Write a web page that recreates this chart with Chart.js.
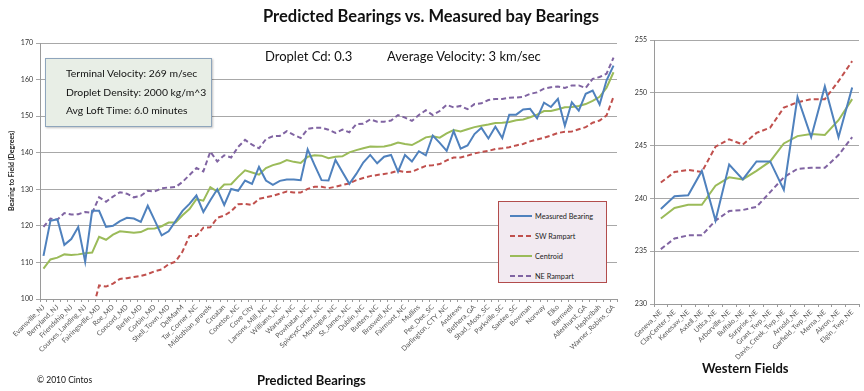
<!DOCTYPE html>
<html>
<head>
<meta charset="utf-8">
<script src="https://cdn.jsdelivr.net/npm/chart.js@4.4.1/dist/chart.umd.min.js"></script>
<style>
  html, body { margin: 0; padding: 0; background: #fff; }
  body { width: 864px; height: 391px; position: relative; overflow: hidden; font-family: Lato, "Open Sans", sans-serif; color: #111; }
  .abs { position: absolute; }
  #leftBox { left: 0; top: 0; width: 630px; height: 391px; }
  #rightBox { left: 620px; top: 0; width: 244px; height: 391px; }
  #title { left: 0; top: 6px; width: 862px; text-align: center; font-weight: bold; font-size: 16.5px; }
  #params { left: 45px; top: 58px; width: 167px; height: 69px; background: #e8eee6; border: 1px solid #8ea5bc;
            box-shadow: 1px 1px 2px rgba(0,0,0,0.25); font-size: 10.4px; line-height: 18.5px; padding: 5px 0 0 20px; box-sizing: border-box; }
  .note { top: 48px; font-size: 13px; }
  #legend { left: 498px; top: 201px; width: 109px; height: 82px; background: #f2eaf1; border: 1px solid #b24c4c;
            box-sizing: border-box; font-size: 7.3px; color: #222; padding-top: 4px; }
  #legend .item { height: 20px; display: flex; align-items: center; padding-left: 11px; }
  #legend svg { margin-right: 3px; }
  .foot { font-weight: bold; font-size: 13px; }
</style>
</head>
<body>
<div id="leftBox" class="abs"><canvas id="predictedChart"></canvas></div>
<div id="rightBox" class="abs"><canvas id="westernChart"></canvas></div>

<div id="title" class="abs">Predicted Bearings vs. Measured bay Bearings</div>
<div id="params" class="abs">
  <div>Terminal Velocity: 269 m/sec</div>
  <div>Droplet Density: 2000 kg/m^3</div>
  <div>Avg Loft Time: 6.0 minutes</div>
</div>
<div class="abs note" style="left:265px">Droplet Cd: 0.3</div>
<div class="abs note" style="left:387px">Average Velocity: 3 km/sec</div>
<div id="legend" class="abs"></div>
<div class="abs foot" style="left:257px; top:372px">Predicted Bearings</div>
<div class="abs foot" style="left:702px; top:360px">Western Fields</div>
<div class="abs" style="left:37px; top:375px; font-size:8.5px">&copy; 2010 Cintos</div>

<script>
// --- Predicted Bearings (only every other site is labelled on the axis) ---
const predictedSites = ['Evansville_NJ', 'Berryland_NJ', 'Friendship_NJ', 'Courses_Landing_NJ', 'Fairingsville_MD',
  'Roe_MD', 'Concord_MD', 'Berlin_MD', 'Corbin_MD', 'Shell_Town_MD', 'DelMarM', 'Tar_Corner_NC',
  'Midlothian_gravels', 'Croatan', 'Conetoe_NC', 'Cove City', 'Larsons_Mill_NC', 'Williams_NC', 'Warsaw_NC',
  'Powhatan_NC', 'SpiveysCorner_NC', 'Montague_NC', 'St_James_NC', 'Dublin_NC', 'Butters_NC', 'Braswell_NC',
  'Fairmont_NC', 'Mullins', 'Pee_Dee_SC', 'Darlington_CTY_NC', 'Andrews', 'Bethera_GA', 'Shad_Moss_SC',
  'Parkville_SC', 'Santee_SC', 'Bowman', 'Norway', 'Elko', 'Barnwell', 'Allenhurst_GA', 'Hephzibah',
  'Warner_Robins_GA'];

const predictedMeasured = [111.8, 121.4, 121.8, 114.8, 116.4, 119.7, 110.2, 124.1, 124.1, 119.7,
  120.0, 121.3, 122.2, 122.0, 121.1, 125.5, 121.5, 117.4, 118.5, 121.3,
  124.1, 126.0, 128.3, 123.8, 127.0, 130.0, 125.7, 130.1, 129.6, 132.4,
  131.5, 136.1, 132.4, 131.2, 132.3, 132.7, 132.7, 132.5, 140.9, 136.6,
  132.5, 132.4, 138.0, 134.7, 131.5, 134.2, 137.3, 139.4, 137.1, 138.9,
  139.4, 134.8, 139.4, 137.6, 140.4, 139.3, 144.7, 142.7, 140.5, 145.9,
  141.1, 142.0, 145.1, 146.8, 143.9, 147.1, 144.0, 150.4, 150.4, 151.8,
  152.0, 149.4, 153.7, 152.5, 154.7, 147.4, 153.8, 151.5, 156.1, 157.0,
  153.2, 159.8, 163.8];

const predictedSW = [null, null, null, null, null, null, null, 96.5, 103.7, 103.4,
  104.2, 105.5, 105.7, 106.0, 106.3, 106.8, 107.6, 108.1, 109.5, 110.2,
  113.0, 117.2, 117.2, 119.5, 119.6, 122.2, 122.8, 124.0, 125.9, 126.0,
  125.7, 127.4, 127.8, 128.2, 128.8, 129.4, 129.1, 129.1, 130.1, 130.7,
  130.7, 130.3, 130.7, 131.2, 131.6, 132.5, 133.1, 133.6, 133.9, 134.2,
  134.5, 135.1, 134.7, 134.8, 135.6, 136.4, 136.6, 136.9, 137.9, 138.7,
  138.7, 139.2, 139.8, 140.2, 140.5, 141.0, 141.2, 141.5, 142.0, 142.4,
  143.1, 143.6, 144.1, 144.7, 145.4, 145.7, 145.8, 146.4, 147.0, 148.2,
  148.8, 150.2, 155.3];

const predictedCentroid = [108.3, 110.8, 111.3, 112.2, 112.0, 112.2, 112.5, 112.7, 117.0, 116.2,
  117.6, 118.5, 118.3, 118.1, 118.3, 119.2, 119.3, 119.9, 120.9, 120.9,
  122.9, 124.6, 127.3, 126.9, 130.6, 129.4, 131.3, 131.4, 133.4, 135.2,
  134.6, 134.0, 135.8, 136.6, 137.1, 138.0, 137.5, 137.2, 138.9, 139.3,
  139.2, 138.5, 138.9, 139.0, 140.1, 140.7, 141.2, 141.7, 141.6, 141.7,
  142.1, 142.8, 142.4, 142.1, 143.1, 144.2, 144.5, 144.1, 145.3, 146.2,
  145.8, 146.4, 147.0, 147.4, 147.7, 148.1, 148.2, 148.4, 148.9, 149.1,
  149.7, 150.4, 151.4, 151.4, 151.9, 152.4, 152.5, 152.8, 153.3, 154.2,
  155.3, 157.8, 162.0];

const predictedNE = [119.7, 122.0, 121.7, 123.5, 123.1, 123.2, 123.8, 123.5, 127.8, 126.6,
  128.0, 129.2, 128.8, 127.8, 128.2, 129.6, 129.4, 130.3, 130.5, 130.6,
  132.0, 133.9, 135.8, 134.9, 140.3, 137.6, 139.3, 138.7, 141.6, 143.5,
  142.2, 141.2, 143.7, 144.5, 144.6, 145.9, 144.9, 144.0, 146.5, 146.8,
  146.8, 146.3, 145.4, 146.3, 145.6, 147.8, 147.9, 149.1, 148.5, 148.5,
  148.8, 150.3, 149.6, 148.7, 150.3, 151.6, 150.3, 151.4, 153.1, 152.4,
  152.8, 151.9, 153.3, 153.5, 154.4, 154.7, 154.7, 155.0, 155.1, 155.3,
  156.1, 156.5, 157.5, 157.9, 158.1, 157.7, 158.4, 158.4, 157.7, 160.2,
  160.7, 161.6, 166.0];

const predictedTicks = [100, 110, 120, 130, 140, 150, 160, 170];

// --- Western Fields ---
const westernSites = ['Geneva_NE', 'ClayCenter_NE', 'Kenesaw_NE', 'Axtell_NE', 'Utica_NE', 'Arborville_NE',
  'Buffalo_NE', 'Surprise_NE', 'Grant_Twp_NE', 'Davis_Creek_Twp_NE', 'Arnold_NE', 'Garfield_Twp_NE',
  'Merna_NE', 'Akron_NE', 'Elgin_Twp_NE'];
const westernMeasured = [239.0, 240.2, 240.3, 242.6, 237.9, 243.2, 241.8, 243.5, 243.5, 240.8, 249.6, 245.8, 250.6, 245.8, 250.5];
const westernSW = [241.5, 242.5, 242.7, 242.5, 244.9, 245.6, 245.1, 246.2, 246.7, 248.6, 249.1, 249.4, 249.4, 251.1, 253.0];
const westernCentroid = [238.1, 239.1, 239.4, 239.4, 241.2, 242.0, 241.8, 242.6, 243.5, 245.2, 245.9, 246.1, 246.0, 247.4, 249.4];
const westernNE = [235.2, 236.2, 236.5, 236.5, 237.9, 238.8, 238.9, 239.2, 240.6, 242.0, 242.8, 242.9, 242.9, 244.1, 245.8];
const westernTicks = [230, 235, 240, 245, 250, 255];

const seriesNames = ['Measured Bearing', 'SW Rampart', 'Centroid', 'NE Rampart'];
const seriesColors = ['#4f81bd', '#c0504d', '#9bbb59', '#8064a2'];
const seriesDash = [[], [5, 3], [], [5, 3]];

// every other category carries a name, the rest are unlabelled ticks
const predictedCategories = [];
predictedSites.forEach(function(name, i) {
    predictedCategories.push(name);
    if (i < predictedSites.length - 1) predictedCategories.push('');
});

const fontFamily = 'Lato, "Open Sans", sans-serif';

function buildDatasets(lists) {
    return lists.map(function(values, i) {
        return {
            label: seriesNames[i],
            data: values,
            borderColor: seriesColors[i],
            backgroundColor: seriesColors[i],
            borderWidth: 2,
            borderDash: seriesDash[i],
            pointRadius: 0,
            tension: 0,
            spanGaps: false
        };
    });
}

function makeChart(canvasId, labels, lists, tickValues, opts) {
    const ctx = document.getElementById(canvasId);
    return new Chart(ctx, {
        type: 'line',
        data: { labels: labels, datasets: buildDatasets(lists) },
        options: {
            responsive: true,
            maintainAspectRatio: false,
            animation: false,
            layout: { padding: opts.padding },
            plugins: { legend: { display: false }, tooltip: { enabled: false } },
            scales: {
                x: {
                    offset: true,
                    grid: { offset: true, drawOnChartArea: false, drawTicks: true, tickLength: 3, color: '#9a9a9a' },
                    border: { color: '#9a9a9a' },
                    ticks: { autoSkip: false, maxRotation: 45, minRotation: 45, padding: 1,
                             color: '#595959', font: { family: fontFamily, size: 7 } },
                    afterFit: function(scale) { scale.height = opts.xHeight; }
                },
                y: {
                    min: tickValues[0],
                    max: tickValues[tickValues.length - 1],
                    afterBuildTicks: function(scale) {
                        scale.ticks = tickValues.map(function(v) { return { value: v }; });
                    },
                    grid: { color: '#a8a8a8', tickLength: 4 },
                    border: { color: '#9a9a9a' },
                    ticks: { padding: 3, color: '#333', font: { family: fontFamily, size: 7 } },
                    title: opts.yTitle ? {
                        display: true, text: opts.yTitle, color: '#222',
                        font: { family: fontFamily, size: 7, weight: 'bold' }, padding: { top: 8, bottom: 0 }
                    } : { display: false },
                    afterFit: function(scale) { scale.width = opts.yWidth; }
                }
            }
        }
    });
}

makeChart('predictedChart', predictedCategories,
    [predictedMeasured, predictedSW, predictedCentroid, predictedNE], predictedTicks,
    { padding: { top: 43, right: 13, bottom: 22, left: 0 }, xHeight: 70, yWidth: 40,
      yTitle: 'Bearing to Field (Degrees)' });

makeChart('westernChart', westernSites,
    [westernMeasured, westernSW, westernCentroid, westernNE], westernTicks,
    { padding: { top: 40, right: 5, bottom: 27, left: 0 }, xHeight: 60, yWidth: 34 });

// legend box drawn as html from the series definitions
const legendBox = document.getElementById('legend');
seriesNames.forEach(function(name, i) {
    const item = document.createElement('div');
    item.className = 'item';
    const dash = seriesDash[i].length ? ' stroke-dasharray="' + seriesDash[i].join(',') + '"' : '';
    item.innerHTML = '<svg width="22" height="4"><line x1="0" y1="2" x2="22" y2="2" stroke="' + seriesColors[i] +
        '" stroke-width="2"' + dash + '/></svg>' + name;
    legendBox.appendChild(item);
});
</script>
</body>
</html>
